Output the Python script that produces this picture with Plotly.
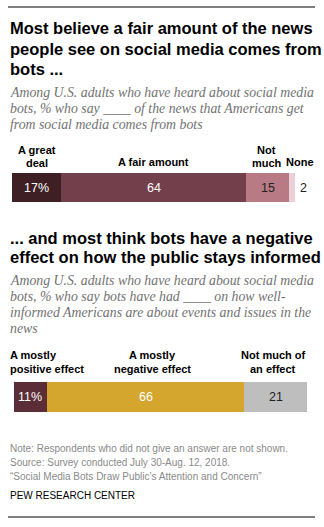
import plotly.graph_objects as go

W, H = 324, 527

# Chart 1: how much of the news from social media comes from bots
news_cats = ["A great deal", "A fair amount", "Not much", "None"]
news_vals = [17, 64, 15, 2]
news_heads = [["A great", "deal"], ["A fair amount"], ["Not", "much"], ["None"]]
news_colors = ["#3e1f24", "#733f4a", "#b87b85", "#ead1d5"]
news_text_colors = ["white", "white", "#222222", "#222222"]

# Chart 2: effect of bots on how well-informed the public is
effect_cats = ["A mostly positive effect", "A mostly negative effect", "Not much of an effect"]
effect_vals = [11, 66, 21]
effect_heads = [["A mostly", "positive effect"], ["A mostly", "negative effect"], ["Not much of", "an effect"]]
effect_colors = ["#5b2d37", "#d4a62e", "#bebebe"]
effect_text_colors = ["white", "white", "#222222"]

title1 = ["Most believe a fair amount of the news",
          "people see on social media comes from",
          "bots ..."]
sub1 = ["Among U.S. adults who have heard about social media",
        "bots, % who say ____ of the news that Americans get",
        "from social media comes from bots"]
title2 = ["... and most think bots have a negative",
          "effect on how the public stays informed"]
sub2 = ["Among U.S. adults who have heard about social media",
        "bots, % who say bots have had ____ on how well-",
        "informed Americans are about events and issues in the",
        "news"]
notes = ["Note: Respondents who did not give an answer are not shown.",
         "Source: Survey conducted July 30-Aug. 12, 2018.",
         "\u201cSocial Media Bots Draw Public\u2019s Attention and Concern\u201d"]
credit = "PEW RESEARCH CENTER"


def px(x):
    return x / W


def py(y):
    return 1 - y / H


SANS = "Liberation Sans, Arial, sans-serif"
SERIF = "Liberation Serif, Georgia, serif"

fig = go.Figure()
ann = []


def line_text(text, x, y, size, color, family, bold=False, italic=False, anchor="left"):
    t = text
    if bold:
        t = "<b>" + t + "</b>"
    if italic:
        t = "<i>" + t + "</i>"
    ann.append(dict(text=t, x=px(x), y=py(y), xref="paper", yref="paper",
                    xanchor=anchor, yanchor="middle", showarrow=False,
                    font=dict(size=size, color=color, family=family)))


for i, t in enumerate(title1):
    line_text(t, 8, [28, 48.5, 69][i], 16.5, "#000000", SANS, bold=True)
for i, t in enumerate(sub1):
    line_text(t, 8, [92, 108, 124][i], 13.8, "#727272", SERIF, italic=True)
for i, t in enumerate(title2):
    line_text(t, 8, [238, 257.5][i], 16.5, "#000000", SANS, bold=True)
for i, t in enumerate(sub2):
    line_text(t, 8, [280, 296, 312, 328][i], 13.8, "#727272", SERIF, italic=True)
for i, t in enumerate(notes):
    line_text(t, 8, [448, 462, 476][i], 10, "#8a8a8a", SANS)
line_text(credit, 8, 495, 10, "#000000", SANS)


def add_stack(vals, cats, colors, xaxis, yaxis):
    for v, c, col in zip(vals, cats, colors):
        fig.add_trace(go.Bar(x=[v], y=[0], name=c, orientation="h", width=1,
                             marker=dict(color=col, line=dict(width=0)),
                             xaxis=xaxis, yaxis=yaxis, hoverinfo="skip",
                             showlegend=False))


add_stack(news_vals, news_cats, news_colors, "x", "y")
add_stack(effect_vals, effect_cats, effect_colors, "x2", "y2")


def value_labels(vals, tcolors, xref, yref, last_outside=False):
    cum = 0
    for i, (v, tc) in enumerate(zip(vals, tcolors)):
        txt = f"{v}%" if i == 0 else str(v)
        outside = last_outside and i == len(vals) - 1
        ann.append(dict(text=txt, x=(cum + v) if outside else cum + v / 2, y=0,
                        xref=xref, yref=yref, showarrow=False,
                        xanchor="left" if outside else "center", yanchor="middle",
                        xshift=3 if outside else 0,
                        font=dict(size=12.5, color="#222222" if outside else tc,
                                  family=SANS)))
        cum += v


value_labels(news_vals, news_text_colors, "x", "y", last_outside=True)
value_labels(effect_vals, effect_text_colors, "x2", "y2")


def head_labels(vals, heads, xref, ys_two, y_one, shifts, left_first=None):
    cum = 0
    for i, (v, hd) in enumerate(zip(vals, heads)):
        ys = ys_two if len(hd) == 2 else [y_one]
        for line, yy in zip(hd, ys):
            if left_first is not None and i == 0:
                ann.append(dict(text="<b>" + line + "</b>", x=px(left_first), y=py(yy),
                                xref="paper", yref="paper", xanchor="left",
                                yanchor="middle", showarrow=False,
                                font=dict(size=11, color="#000000", family=SANS)))
            else:
                ann.append(dict(text="<b>" + line + "</b>", x=cum + v / 2, y=py(yy),
                                xref=xref, yref="paper", xanchor="center",
                                yanchor="middle", showarrow=False, xshift=shifts[i],
                                font=dict(size=11, color="#000000", family=SANS)))
        cum += v


head_labels(news_vals, news_heads, "x", [149.5, 163], 162, [0, 0, -1, 8])
head_labels(effect_vals, effect_heads, "x2", [355, 369], 369, [0, 7, -3], left_first=8)

total1 = sum(news_vals)
total2 = sum(effect_vals)

axis_off = dict(showgrid=False, zeroline=False, showticklabels=False,
                showline=False, fixedrange=True)

fig.update_layout(
    width=W, height=H,
    margin=dict(l=0, r=0, t=0, b=0),
    paper_bgcolor="white", plot_bgcolor="white",
    barmode="stack", bargap=0,
    annotations=ann,
    xaxis=dict(domain=[px(12), px(295)], range=[0, total1], anchor="y", **axis_off),
    yaxis=dict(domain=[py(202), py(173)], range=[-0.5, 0.5], anchor="x", **axis_off),
    xaxis2=dict(domain=[px(14), px(307)], range=[0, total2], anchor="y2", **axis_off),
    yaxis2=dict(domain=[py(412), py(382)], range=[-0.5, 0.5], anchor="x2", **axis_off),
    shapes=[
        dict(type="line", xref="paper", yref="paper", x0=px(8), x1=px(315),
             y0=py(7), y1=py(7), line=dict(color="#000000", width=1.2)),
        dict(type="line", xref="paper", yref="paper", x0=px(8), x1=px(315),
             y0=py(517), y1=py(517), line=dict(color="#000000", width=1.2)),
    ],
)

fig.write_html("out.html")
